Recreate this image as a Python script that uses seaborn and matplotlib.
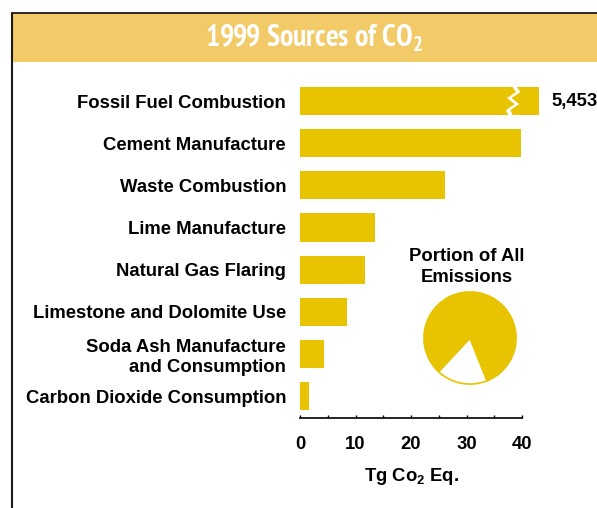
import matplotlib
matplotlib.use("Agg")
import matplotlib.pyplot as plt
from matplotlib.patches import Rectangle, Polygon
from matplotlib import font_manager
import seaborn as sns
import numpy as np

# ---- data ----
categories = [
    "Fossil Fuel Combustion",
    "Cement Manufacture",
    "Waste Combustion",
    "Lime Manufacture",
    "Natural Gas Flaring",
    "Limestone and Dolomite Use",
    "Soda Ash Manufacture\nand Consumption",
    "Carbon Dioxide Consumption",
]
values = [5453, 39.9, 26.1, 13.5, 11.8, 8.5, 4.3, 1.6]
display_cap = 43.1          # broken bar is drawn to this length
xticks = [0, 10, 20, 30, 40]
pie_labels = ["CO2", "Other gases"]
pie_shares = [82, 18]

BAR = "#E8C300"
HEAD = "#F2CB68"

sns.set_theme(style="white")
plt.rcParams["font.family"] = ["Liberation Sans", "DejaVu Sans"]
plt.rcParams["font.weight"] = "bold"
plt.rcParams["text.color"] = "black"
plt.rcParams["axes.labelcolor"] = "black"
plt.rcParams["xtick.color"] = "black"
plt.rcParams["ytick.color"] = "black"
plt.rcParams["mathtext.fontset"] = "custom"
plt.rcParams["mathtext.rm"] = "Liberation Sans:bold"
plt.rcParams["mathtext.bf"] = "Liberation Sans:bold"

W, H = 597, 508
fig = plt.figure(figsize=(W / 100, H / 100), dpi=100)
fig.patch.set_facecolor("white")

def fx(px):
    return px / W

def fy(py):
    return 1 - py / H

# frame and header band
fig.add_artist(Rectangle((fx(12), fy(62)), 1, fy(13) - fy(62), transform=fig.transFigure,
                         facecolor=HEAD, edgecolor="none", zorder=0))
fig.add_artist(plt.Line2D([fx(11.5), 1], [fy(12.5), fy(12.5)], transform=fig.transFigure,
                          color="#1a1a1a", lw=1.3))
fig.add_artist(plt.Line2D([fx(11.5), fx(11.5)], [fy(12.5), 0], transform=fig.transFigure,
                          color="#1a1a1a", lw=1.5))

# pick a narrow / condensed bold family if one is installed
def is_bold(w):
    return w in ("bold", "heavy", "black", "extra bold") or (isinstance(w, int) and w >= 700)

fonts = font_manager.fontManager.ttflist
narrow = [f for f in fonts if "narrow" in f.name.lower() and is_bold(f.weight)]
cond = [f for f in fonts if is_bold(f.weight) and
        ("condensed" in f.name.lower() or f.stretch in ("condensed", "semi-condensed", 500 - 125))]
title_kw = dict(family="Liberation Sans", fontsize=17)
if narrow:
    title_kw = dict(family=narrow[0].name, fontstretch=narrow[0].stretch, fontsize=21.5)
elif cond:
    title_kw = dict(family=cond[0].name, fontstretch="condensed", fontsize=17)
fig.text(fx(314), fy(38), r"1999 Sources of CO$_\mathregular{2}$", color="white",
         fontweight="bold", ha="center", va="center", **title_kw)

# ---- bar chart ----
ax = fig.add_axes([fx(300), fy(418), fx(522) - fx(300), fy(80) - fy(418)])
draw_vals = [min(v, display_cap) for v in values]
sns.barplot(x=draw_vals, y=categories, orient="h", color=BAR, width=0.67,
            saturation=1, ax=ax)
for p in ax.patches:
    p.set_clip_on(False)
    p.set_edgecolor("none")
ax.set_xlim(0, 40)
ax.set_ylim(7.52, -0.5)
ax.set_xticks(xticks)
ax.set_xticks([5, 15, 25, 35], minor=True)
ax.tick_params(axis="x", which="both", direction="in", length=2.5, width=1, color="black",
               bottom=True, labelsize=13.3, pad=13)
ax.tick_params(axis="y", length=0, labelsize=13.3, pad=10)
for lab in ax.get_yticklabels():
    lab.set_fontweight("bold")
    lab.set_multialignment("right")
for lab in ax.get_xticklabels():
    lab.set_fontweight("bold")
for s in ["top", "right", "left"]:
    ax.spines[s].set_visible(False)
ax.spines["bottom"].set_color("black")
ax.spines["bottom"].set_linewidth(1.2)
ax.set_xlabel(r"Tg Co$_\mathregular{2}$ Eq.", fontsize=13.3, fontweight="bold", labelpad=9)
ax.set_ylabel("")

# break mark on the fossil fuel bar
h = 0.67 / 2
xs = [38.2, 38.9, 37.3, 38.7, 37.1, 37.6]
ys = np.linspace(-h - 0.02, h + 0.02, len(xs))
left = list(zip(xs, ys))
right = [(x + 0.8, y) for x, y in reversed(left)]
ax.add_patch(Polygon(left + right, closed=True, facecolor="white", edgecolor="none",
                     zorder=5, clip_on=False))

ax.text(display_cap + 2.2, 0, f"{values[0]:,}", ha="left", va="center",
        fontsize=13.3, fontweight="bold", clip_on=False)

# ---- pie ----
fig.text(fx(467), fy(267), "Portion of All\nEmissions", ha="center", va="center",
         fontsize=13.3, fontweight="bold", linespacing=1.25)
r = 47
pax = fig.add_axes([fx(470 - r), fy(338 + r), fx(2 * r), fy(0) - fy(2 * r)])
pax.pie(pie_shares[::-1], colors=["white", BAR], startangle=227, counterclock=True,
        wedgeprops=dict(edgecolor=BAR, linewidth=1.2), radius=1)
pax.set_aspect("equal")
pax.set_xlim(-1.02, 1.02)
pax.set_ylim(-1.02, 1.02)
pax.axis("off")

fig.savefig("out.png", dpi=100, facecolor="white")
